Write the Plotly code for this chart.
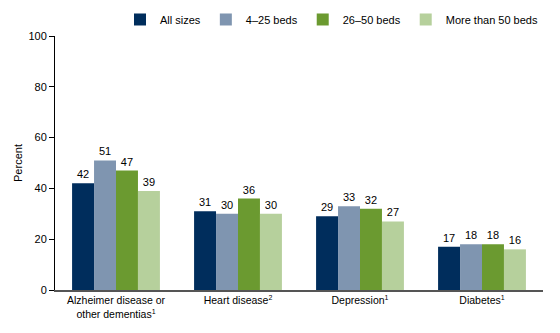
import plotly.graph_objects as go

sup = "<sup><span style='font-size:7px'>{}</span></sup>"
categories = ["Alzheimer disease or<br>other dementias" + sup.format(1), "Heart disease" + sup.format(2),
              "Depression" + sup.format(1), "Diabetes" + sup.format(1)]
series_names = ["All sizes", "4\u201325 beds", "26\u201350 beds", "More than 50 beds"]
all_sizes = [42, 31, 29, 17]
beds_4_25 = [51, 30, 33, 18]
beds_26_50 = [47, 36, 32, 18]
beds_50_plus = [39, 30, 27, 16]
colors = ["#002d5c", "#7f95b0", "#6b9a30", "#b6d09c"]
y_ticks = [0, 20, 40, 60, 80, 100]

fig = go.Figure()
for name, vals, c in zip(series_names, [all_sizes, beds_4_25, beds_26_50, beds_50_plus], colors):
    fig.add_trace(go.Bar(
        x=categories, y=vals, name=name, marker=dict(color=c, line=dict(width=0)),
        text=[str(v) for v in vals], textposition="outside", cliponaxis=False,
        textfont=dict(size=11, color="#000000"),
    ))

fig.update_layout(
    width=560, height=333,
    margin=dict(l=55, r=17, t=36, b=43, autoexpand=False),
    barmode="group", bargap=0.28, bargroupgap=0,
    plot_bgcolor="white", paper_bgcolor="white",
    font=dict(family="Liberation Sans, Arial, sans-serif", size=11, color="#000000"),
    legend=dict(orientation="h", x=1.0, xanchor="right", y=1.065, yanchor="middle",
                font=dict(size=11), traceorder="normal", itemwidth=30,
                bgcolor="rgba(0,0,0,0)"),
    showlegend=True,
)
fig.update_yaxes(range=[0, 100], tickvals=y_ticks, ticks="outside", ticklen=5,
                 tickcolor="#000000", showline=True, linecolor="#000000", linewidth=1,
                 showgrid=False, zeroline=False,
                 title=dict(text="Percent", font=dict(size=11), standoff=3))
fig.update_xaxes(showline=True, linecolor="#555555", linewidth=1.5, ticks="",
                 showgrid=False, tickfont=dict(size=10.5))

fig.write_html("out.html")
